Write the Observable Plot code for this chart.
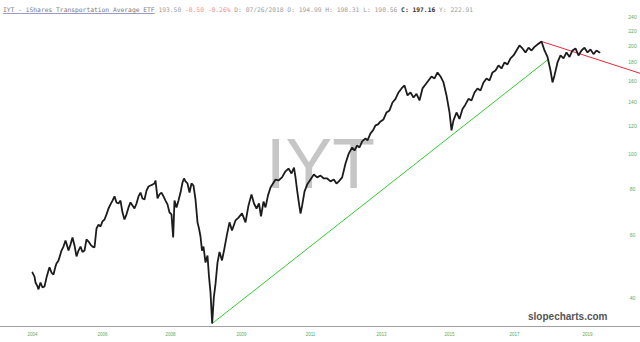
<!DOCTYPE html>
<html>
<head>
<meta charset="utf-8">
<script src="https://cdn.jsdelivr.net/npm/d3@7"></script>
<script src="https://cdn.jsdelivr.net/npm/@observablehq/plot@0.6"></script>
<style>
  html, body { margin: 0; padding: 0; background: #fff; }
  #wrap { position: relative; width: 640px; height: 342px; overflow: hidden; }
  #hdr { position: absolute; left: 3px; top: 6px; font: 6.3px "DejaVu Sans Mono", monospace; color: #9a9a9a; white-space: pre; line-height: 7px; }
  #hdr .t { color: #7a7a7a; text-decoration: underline; text-decoration-color: #9a9ac8; }
  #hdr .neg { color: #f08a8a; }
  #hdr .c { color: #333; font-weight: bold; }
  #chart { position: absolute; left: 0; top: 0; }
</style>
</head>
<body>
<div id="wrap">
  <div id="chart"></div>
  <div id="hdr"><span class="t">IYT - iShares Transportation Average ETF</span> 193.50 <span class="neg">-0.50 -0.26%</span> D: 07/26/2018 O: 194.99 H: 198.31 L: 190.56 <span class="c">C: 197.16</span> Y: 222.91</div>
</div>
<script>
// Trading-bar index of each sampled close
const bars = [0,12,18,30,36,48,60,72,84,96,102,114,126,138,144,156,162,174,186,198,204,216,228,240,252,264,276,288,300,312,324,336,348,360,372,384,396,408,420,432,444,456,468,480,492,504,516,528,540,552,564,576,588,600,612,624,636,648,660,672,684,696,708,720,732,738,750,762,774,786,798,810,822,834,844,852,864,876,888,900,909,918,930,942,954,966,978,990,999,1008,1017,1026,1038,1050,1059,1068,1078,1088,1098,1110,1122,1137,1149,1167,1182,1197,1218,1236,1257,1278,1296,1314,1329,1344,1359,1371,1386,1398,1413,1428,1443,1458,1476,1497,1518,1536,1554,1569,1578,1588,1599,1608,1618,1632,1648,1668,1688,1708,1728,1748,1768,1788,1808,1824,1838,1858,1878,1898,1918,1932,1948,1962,1978,1998,2010,2028,2043,2058,2073,2088,2106,2124,2142,2160,2178,2196,2214,2232,2250,2268,2286,2304,2322,2340,2358,2376,2394,2412,2430,2448,2466,2484,2502,2514,2526,2544,2562,2580,2598,2616,2634,2652,2670,2688,2706,2724,2742,2760,2778,2796,2814,2832,2850,2868,2886,2904,2922,2940,2958,2976,2994,3012,3030,3054,3072,3090,3108,3120,3132,3150,3168,3186,3204,3222,3240,3258,3276,3294,3312,3330,3348,3366,3384,3402];
// Closing prices
const closes = [47.2,46.0,44.3,43.2,42.4,44.3,42.9,43.2,45.7,47.8,48.8,47.2,46.6,49.1,50.0,51.0,52.0,54.3,55.7,57.9,56.8,54.3,56.4,59.0,56.1,52.3,54.3,55.7,53.8,54.3,58.3,57.5,56.4,55.7,55.4,62.5,64.1,63.3,65.4,66.2,68.4,71.0,72.9,74.7,76.7,73.8,73.3,74.7,69.2,66.2,68.4,71.5,73.8,72.4,71.0,73.3,76.7,78.6,75.7,75.2,79.6,81.7,82.2,82.7,83.3,84.9,75.7,77.7,78.6,76.7,74.7,72.9,69.2,68.4,59.0,74.7,71.5,74.7,78.6,83.8,86.0,84.4,83.3,78.6,83.3,82.2,75.2,65.0,62.5,59.4,54.3,55.7,50.3,52.6,46.0,41.6,34.1,40.3,43.9,50.3,53.8,51.0,54.3,60.2,65.0,61.7,65.8,67.0,68.8,65.0,72.4,77.7,73.3,71.0,73.3,67.5,74.2,71.5,77.2,81.2,83.3,85.4,84.9,86.6,90.0,91.6,88.8,92.1,86.6,79.6,73.3,68.8,72.4,79.1,82.7,85.4,88.2,86.6,87.6,86.0,86.0,84.4,85.4,83.3,84.4,86.6,94.6,100.9,104.8,102.8,106.1,104.8,108.9,111.0,109.6,114.6,116.8,120.6,121.4,123.7,125.3,131.0,132.7,139.6,142.8,148.8,152.7,155.6,146.0,148.8,144.1,147.4,141.4,152.7,156.6,160.6,164.8,162.7,169.1,164.8,158.6,146.0,131.0,116.8,124.5,131.0,125.7,134.0,137.9,142.8,141.4,148.8,152.7,150.7,158.6,162.7,160.6,169.1,171.2,176.8,173.4,180.2,178.0,184.9,188.4,194.5,200.8,197.0,192.1,198.0,194.5,199.0,202.0,206.0,194.5,186.6,171.2,158.6,165.9,180.2,188.4,184.9,192.1,186.6,194.5,197.0,188.4,194.5,198.0,192.1,195.8,190.0,194.5,192.1];

// Support trendline (green) and resistance line (red): [bar, price] endpoints
const supportBars = [1078, 3096];
const supportPrices = [34.1, 184];
const resistBars = [3054, 3648];
const resistPrices = [206, 168];

// Axis ticks
const yTicks = [40, 60, 80, 100, 120, 140, 160, 180, 200, 220, 240];
const xTickBars = [0, 420, 828, 1254, 1668, 2094, 2502, 2892, 3330];
const xTickLabels = ["2004", "2006", "2008", "2009", "2011", "2013", "2015", "2017", "2019"];

const data = bars.map((b, i) => ({bar: b, close: closes[i]}));
const support = supportBars.map((b, i) => ({bar: b, price: supportPrices[i]}));
const resist = resistBars.map((b, i) => ({bar: b, price: resistPrices[i]}));

const chart = Plot.plot({
  width: 640,
  height: 342,
  marginLeft: 0,
  marginRight: 0,
  marginTop: 0,
  marginBottom: 16,
  style: {background: "transparent", fontFamily: "Liberation Sans, sans-serif"},
  x: {domain: [0, 3648], range: [32, 640], axis: null},
  y: {type: "log", domain: [40, 240], range: [298, 17], axis: null},
  marks: [
    Plot.text(["IYT"], {frameAnchor: "middle", text: d => d, fontSize: 70, fill: "#c6c6c6", fontFamily: "Liberation Sans, sans-serif", dx: 0, dy: 2}),
    Plot.frame({anchor: "bottom", stroke: "#a0a0a0"}),
    Plot.line(support, {x: "bar", y: "price", stroke: "#33cc33", strokeWidth: 1}),
    Plot.line(resist, {x: "bar", y: "price", stroke: "#e8283c", strokeWidth: 1}),
    Plot.line(data, {x: "bar", y: "close", stroke: "#1c1c1c", strokeWidth: 1.8, strokeLinejoin: "miter"}),
    Plot.text(yTicks, {y: d => d, text: d => String(d), frameAnchor: "right", dx: -8, textAnchor: "middle", fontSize: 5, fill: "#5aaa5a"}),
    Plot.text(xTickBars, {x: d => d, text: (d, i) => xTickLabels[i], frameAnchor: "bottom", dy: 9, fontSize: 4.5, fill: "#5aaa5a"}),
    Plot.text(["slopecharts.com"], {frameAnchor: "bottom-right", text: d => d, textAnchor: "end", dx: -33, dy: -7, fontSize: 10, fontWeight: "bold", fill: "#555", fontFamily: "Liberation Sans, sans-serif"})
  ]
});
document.getElementById("chart").appendChild(chart);
</script>
</body>
</html>
